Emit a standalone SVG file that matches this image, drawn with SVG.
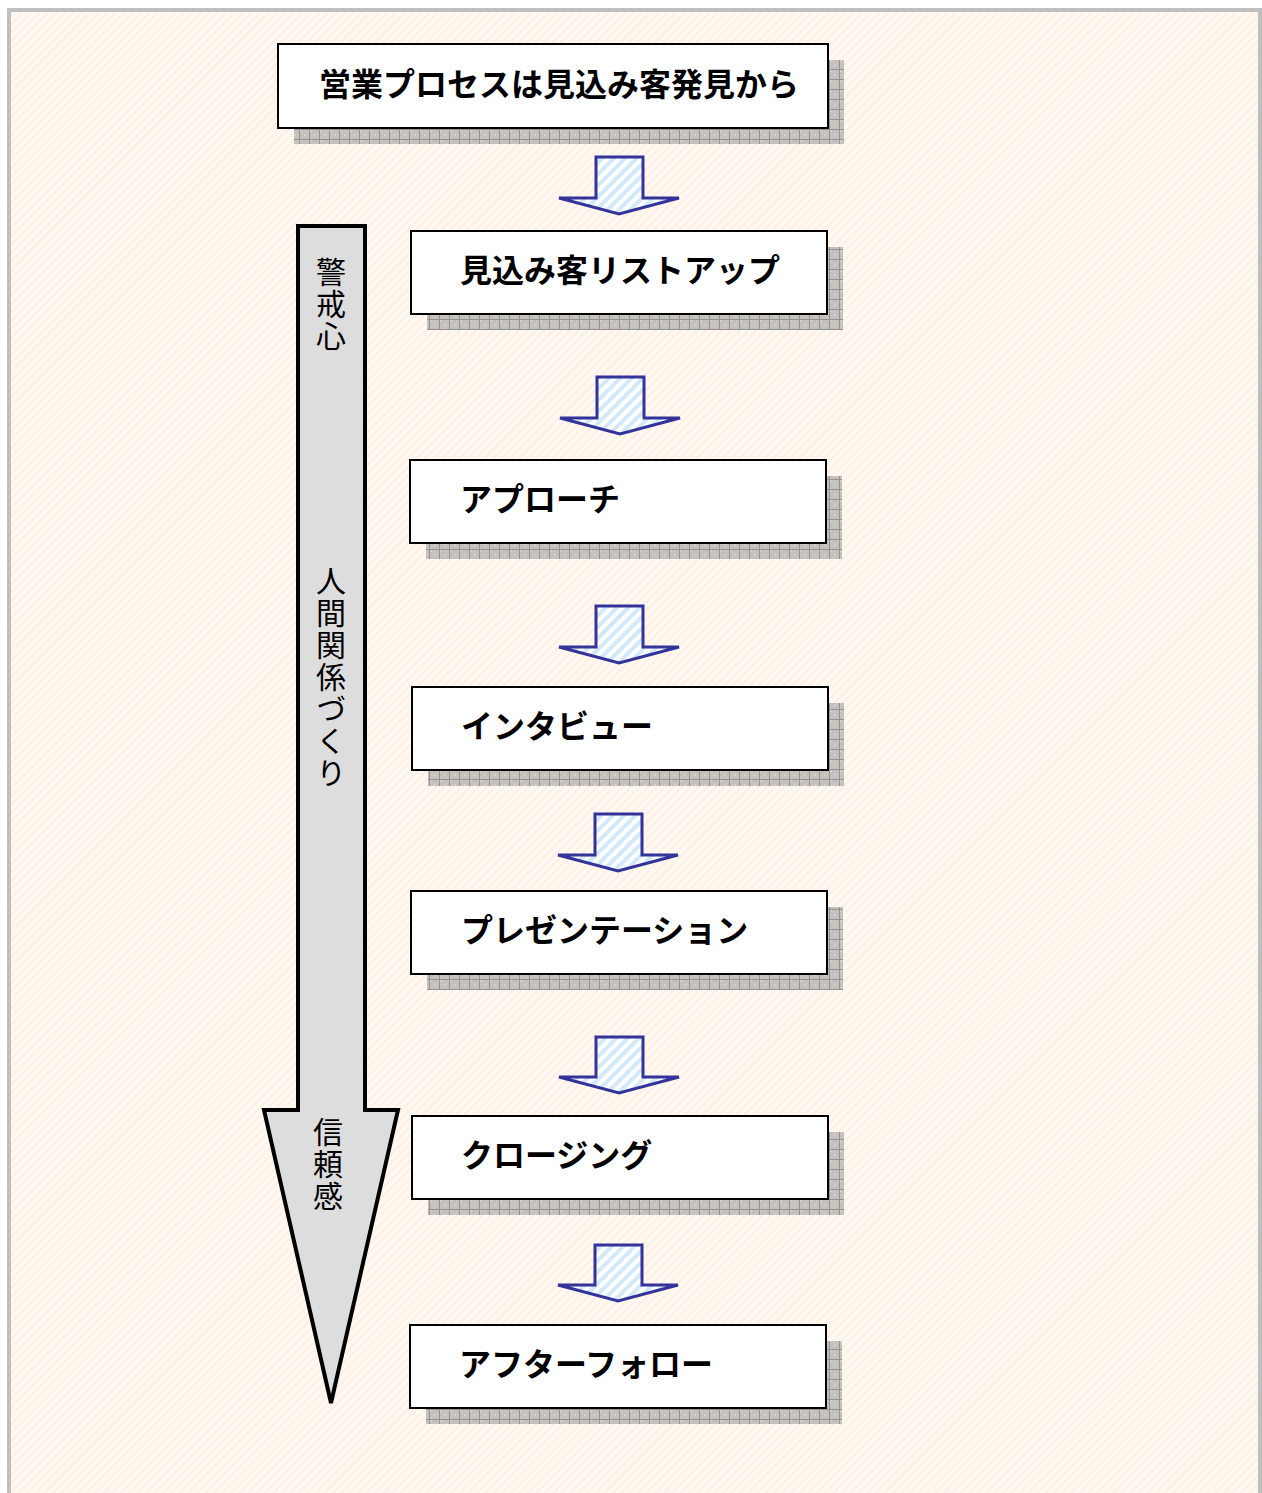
<svg xmlns="http://www.w3.org/2000/svg" width="1262" height="1493" viewBox="0 0 1262 1493">
<defs>
<pattern id="bg" width="6" height="6" patternUnits="userSpaceOnUse" patternTransform="rotate(45)">
<rect width="6" height="6" fill="#FFF8F1"/>
<rect width="1.5" height="6" fill="#FCEDE2"/>
</pattern>
<pattern id="grid" width="10" height="10" patternUnits="userSpaceOnUse">
<rect width="10" height="10" fill="#C5C2BE"/>
<rect x="0" y="0" width="2" height="2" fill="#D2CFCB"/>
<rect x="4" y="4" width="2" height="2" fill="#D2CFCB"/>
<rect x="9" y="0" width="1" height="10" fill="#949290"/>
<rect x="0" y="9" width="10" height="1" fill="#949290"/>
</pattern>
<pattern id="stripe" width="8" height="8" patternUnits="userSpaceOnUse" patternTransform="rotate(45)">
<rect width="8" height="8" fill="#FFFFFF"/>
<rect width="4" height="8" fill="#D3E9FA"/>
</pattern>
<style>
.shadow{fill:url(#grid);}
.box{fill:#FFFFFF;stroke:#000000;stroke-width:2;}
.label{font-family:"Noto Sans CJK JP","Noto Sans",sans-serif;font-weight:bold;font-size:32px;fill:#000000;dominant-baseline:central;}
.flow{fill:url(#stripe);stroke:#333399;stroke-width:3;stroke-linejoin:miter;}
.vtext{font-family:"Noto Sans CJK JP","Noto Sans",sans-serif;font-size:30px;fill:#000000;writing-mode:vertical-rl;letter-spacing:2px;}
</style>
</defs>
<rect x="0" y="0" width="1262" height="1493" fill="#FFFFFF"/>
<rect x="9" y="10" width="1251" height="1490" fill="url(#bg)" stroke="#BFBFBF" stroke-width="4"/>

<g id="trust-arrow">
<polygon points="298,226 365,226 365,1110 398,1110 331,1403 264,1110 298,1110" fill="#DDDDDD" stroke="#000000" stroke-width="4" stroke-linejoin="miter"/>
<text class="vtext" x="331" y="257">警戒心</text>
<text class="vtext" x="331" y="566">人間関係づくり</text>
<text class="vtext" x="328" y="1117">信頼感</text>
</g>

<g id="title">
<rect class="shadow" x="294" y="60" width="550" height="84"/>
<rect class="box" x="278" y="44" width="550" height="84"/>
<text class="label" x="319" y="82">営業プロセスは見込み客発見から</text>
</g>

<g id="step-list">
<rect class="shadow" x="427" y="247" width="416" height="83"/>
<rect class="box" x="411" y="231" width="416" height="83"/>
<text class="label" x="460" y="268">見込み客リストアップ</text>
</g>

<g id="step-approach">
<rect class="shadow" x="426" y="476" width="416" height="83"/>
<rect class="box" x="410" y="460" width="416" height="83"/>
<text class="label" x="460" y="497">アプローチ</text>
</g>

<g id="step-interview">
<rect class="shadow" x="428" y="703" width="416" height="83"/>
<rect class="box" x="412" y="687" width="416" height="83"/>
<text class="label" x="461" y="724">インタビュー</text>
</g>

<g id="step-presentation">
<rect class="shadow" x="427" y="907" width="416" height="83"/>
<rect class="box" x="411" y="891" width="416" height="83"/>
<text class="label" x="461" y="928">プレゼンテーション</text>
</g>

<g id="step-closing">
<rect class="shadow" x="428" y="1132" width="416" height="83"/>
<rect class="box" x="412" y="1116" width="416" height="83"/>
<text class="label" x="461" y="1153">クロージング</text>
</g>

<g id="step-follow">
<rect class="shadow" x="426" y="1341" width="416" height="83"/>
<rect class="box" x="410" y="1325" width="416" height="83"/>
<text class="label" x="459" y="1362">アフターフォロー</text>
</g>

<g id="connectors">
<polygon class="flow" points="596,157 643,157 643,198 679,198 619,214 559,198 596,198"/>
<polygon class="flow" points="597,377 644,377 644,418 680,418 620,434 560,418 597,418"/>
<polygon class="flow" points="596,606 643,606 643,647 679,647 619,663 559,647 596,647"/>
<polygon class="flow" points="595,814 642,814 642,855 678,855 618,871 558,855 595,855"/>
<polygon class="flow" points="596,1037 643,1037 643,1077 679,1077 619,1093 559,1077 596,1077"/>
<polygon class="flow" points="595,1245 642,1245 642,1285 678,1285 618,1301 558,1285 595,1285"/>
</g>
</svg>
